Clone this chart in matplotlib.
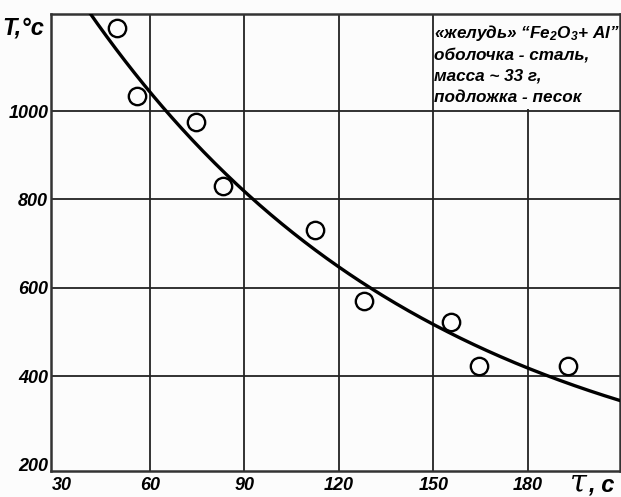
import matplotlib
matplotlib.use("Agg")
import matplotlib.pyplot as plt
import matplotlib.transforms as mtransforms
import numpy as np
from matplotlib.patches import Rectangle

# measured points (time, s ; temperature, C)
t_pts = [49.6, 55.9, 74.5, 83.2, 112.4, 127.9, 155.7, 164.5, 192.9]
T_pts = [1189, 1034, 975, 830, 731, 570, 523, 423, 423]

# points
t_curve = [42, 60, 65.6, 94.1, 100.4, 120, 150, 180, 209]
T_curve = [1206, 1051, 1000, 800, 757, 645, 500, 419, 350]

x_ticks = [30, 60, 90, 120, 150, 180]
y_ticks = [200, 400, 600, 800, 1000]

note_lines = ["«желудь» “Fe$_2$O$_3$+ Al”",
              "оболочка - сталь,",
              "масса ~ 33 г,",
              "подложка - песок"]

plt.rcParams['font.family'] = ['Liberation Sans', 'DejaVu Sans']
plt.rcParams['mathtext.fontset'] = 'custom'
plt.rcParams['mathtext.rm'] = 'Liberation Sans:italic:bold'
plt.rcParams['mathtext.it'] = 'Liberation Sans:italic:bold'

fig = plt.figure(figsize=(6.21, 4.97), dpi=100, facecolor='#fcfcfc')
ax = fig.add_axes([0.0821, 0.0523, 0.916, 0.9195], facecolor='#fcfcfc')

# exponential trend fitted to the curve readings: T = A*exp(-t/tau) + C
tc = np.array(t_curve, float)
Tc = np.array(T_curve, float)
best = None
for C in np.arange(0, 340, 5):
    k, b = np.polyfit(tc, np.log(Tc - C), 1)
    err = np.sum((np.exp(b + k * tc) + C - Tc) ** 2)
    if best is None or err < best[0]:
        best = (err, C, k, b)
_, C, k, b = best
tt = np.linspace(35, 212, 300)
ax.plot(tt, np.exp(b + k * tt) + C, color='black', lw=2.4, zorder=4)

ax.plot(t_pts, T_pts, 'o', ms=12.5, mfc='none', mec='black', mew=1.7, zorder=5)

ax.set_xlim(28.6, 209.2)
ax.set_ylim(185, 1220)
ax.set_xticks(x_ticks)
ax.set_yticks(y_ticks)
ax.tick_params(length=0, labelsize=13)
ax.tick_params(axis='y', pad=2)
ax.tick_params(axis='x', pad=4)
for lab in ax.get_xticklabels() + ax.get_yticklabels():
    lab.set_fontweight('bold')
    lab.set_fontstyle('italic')
# first x label sits just right of the spine
first = ax.get_xticklabels()[0]
first.set_transform(first.get_transform() +
                    mtransforms.ScaledTranslation(6 / 100, 0, fig.dpi_scale_trans))
ax.grid(True, color='#222222', lw=1.3, zorder=1)
ax.xaxis.get_gridlines()[0].set_visible(False)
ax.yaxis.get_gridlines()[0].set_visible(False)
for s in ax.spines.values():
    s.set_color('#333333')
    s.set_linewidth(1.8)

# white panel behind the note
ax.add_patch(Rectangle((151, 1004), 60, 300, facecolor='#fcfcfc',
                       edgecolor='none', zorder=2))
for i, line in enumerate(note_lines):
    ax.text(150.2, 1176 - i * 48, line, fontsize=12.3, fontweight='bold',
            fontstyle='italic', va='center', ha='left', zorder=6)

fig.text(0.004, 0.944, "T,°c", fontsize=17, fontweight='bold',
         fontstyle='italic', va='center', ha='left')
fig.text(0.918, 0.012, "τ", fontsize=22, fontstyle='italic',
         family=['DejaVu Serif'], va='baseline', ha='left')
fig.text(0.948, 0.012, ", c", fontsize=17, fontweight='bold',
         fontstyle='italic', va='baseline', ha='left')

fig.savefig("out.png", dpi=100, facecolor=fig.get_facecolor())
